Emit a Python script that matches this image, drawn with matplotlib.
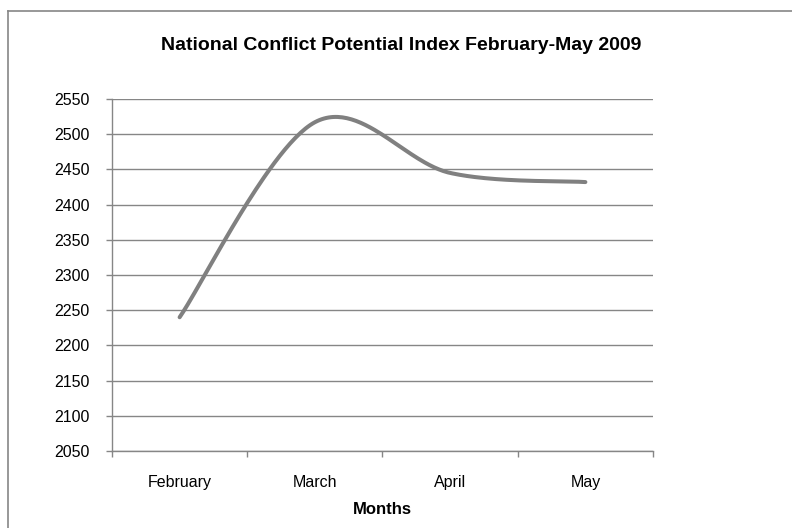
import numpy as np
import matplotlib.pyplot as plt

plt.rcParams['font.family'] = ['Liberation Sans', 'DejaVu Sans']

months = ['February', 'March', 'April', 'May']
index_values = [2240, 2517, 2445, 2432]
y_ticks = list(range(2050, 2551, 50))


def smooth_line(xs, ys, steps=60):
    # Excel-style smoothed line: cubic Bezier with Catmull-Rom control points
    xs = np.asarray(xs, float)
    ys = np.asarray(ys, float)
    n = len(xs)
    out_x, out_y = [], []
    for i in range(n - 1):
        p0 = np.array([xs[max(i - 1, 0)], ys[max(i - 1, 0)]])
        p1 = np.array([xs[i], ys[i]])
        p2 = np.array([xs[i + 1], ys[i + 1]])
        p3 = np.array([xs[min(i + 2, n - 1)], ys[min(i + 2, n - 1)]])
        c1 = p1 + (p2 - p0) / 6
        c2 = p2 - (p3 - p1) / 6
        t = np.linspace(0, 1, steps)[:, None]
        pts = ((1 - t) ** 3) * p1 + 3 * ((1 - t) ** 2) * t * c1 \
            + 3 * (1 - t) * t ** 2 * c2 + t ** 3 * p2
        out_x.extend(pts[:, 0])
        out_y.extend(pts[:, 1])
    return out_x, out_y


fig = plt.figure(figsize=(7.92, 5.28), dpi=100)
ax = fig.add_axes([0.1414, 0.1458, 0.6831, 0.6667])

x = np.arange(len(months))
sx, sy = smooth_line(x, index_values)
ax.plot(sx, sy, color='#808080', lw=2.9, solid_capstyle='round', zorder=3)

ax.set_xlim(-0.5, len(months) - 0.5)
ax.set_ylim(2050, 2550)
ax.set_yticks(y_ticks)
ax.set_yticklabels([str(v) for v in y_ticks], fontsize=11.5)
ax.set_xticks(x)
ax.set_xticklabels(months, fontsize=11.5)
ax.set_xticks(np.arange(-0.5, len(months), 1), minor=True)
ax.tick_params(axis='x', which='major', length=0, pad=17)
ax.tick_params(axis='x', which='minor', length=4, color='#868686', width=1)
ax.tick_params(axis='y', length=4, color='#868686', width=1, pad=12)

ax.grid(axis='y', color='#868686', lw=1)
ax.set_axisbelow(True)
for side in ['top', 'right']:
    ax.spines[side].set_visible(False)
for side in ['left', 'bottom']:
    ax.spines[side].set_color('#868686')
    ax.spines[side].set_linewidth(1)

ax.set_xlabel('Months', fontsize=12, fontweight='bold', labelpad=9)
fig.text(0.506, 0.913, 'National Conflict Potential Index February-May 2009',
         ha='center', va='center', fontsize=14, fontweight='bold')

# chart area border (top and left edges visible)
fig.add_artist(plt.Line2D([8 / 792, 1.0], [1 - 11 / 528, 1 - 11 / 528],
                          color='#868686', lw=1.2, transform=fig.transFigure))
fig.add_artist(plt.Line2D([8 / 792, 8 / 792], [0, 1 - 11 / 528],
                          color='#868686', lw=1.2, transform=fig.transFigure))

fig.savefig('out.png', dpi=100)
